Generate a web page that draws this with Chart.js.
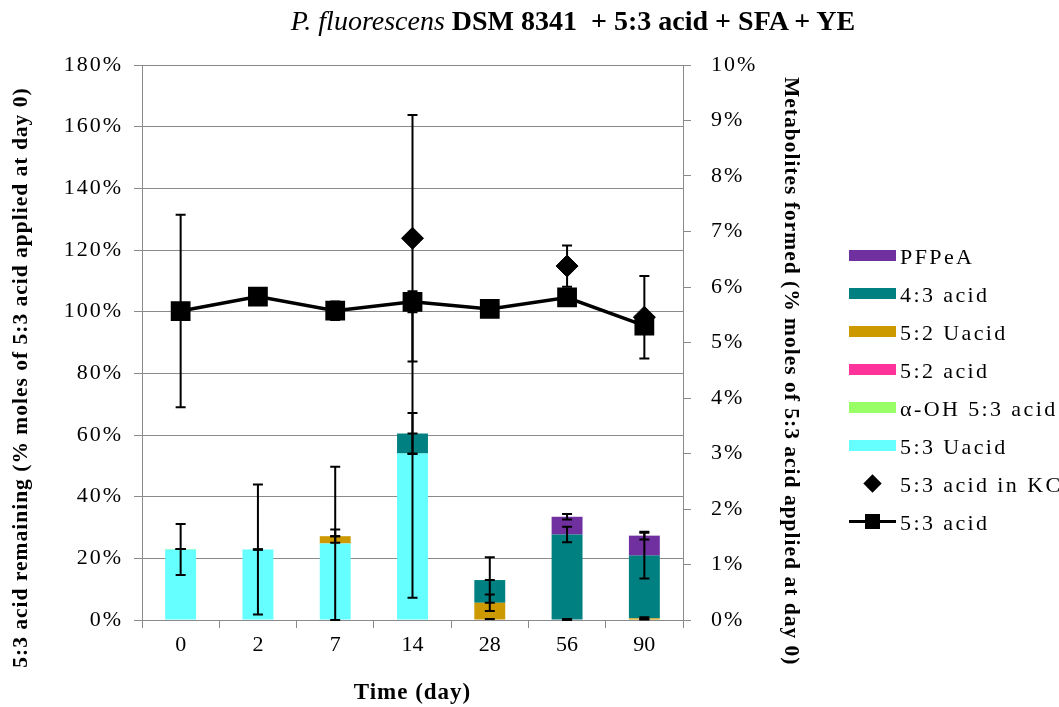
<!DOCTYPE html>
<html>
<head>
<meta charset="utf-8">
<script src="https://cdn.jsdelivr.net/npm/chart.js@4.4.1/dist/chart.umd.min.js"></script>
<style>
  body { margin: 0; background: #fff; }
  #wrap { position: relative; width: 1059px; height: 707px; }
  #title {
    position: absolute; left: 0; top: 5px; width: 1146px; text-align: center;
    font-family: "Liberation Serif", serif; font-size: 28px; color: #000;
    white-space: pre;
  }
  #title i { font-weight: normal; }
  #legend { position: absolute; left: 849px; top: 255px; font-family: "Liberation Serif", serif; }
  #legend .item { position: absolute; left: 0; height: 0; }
  #legend .swatch { position: absolute; left: 0; top: -5.5px; width: 47px; height: 11px; }
  #legend .diamond { position: absolute; left: 16.5px; top: -6.5px; width: 13px; height: 13px; background: #000; transform: rotate(45deg); }
  #legend .line { position: absolute; left: 0; top: -1.5px; width: 47px; height: 3px; background: #000; }
  #legend .sq { position: absolute; left: 16px; top: -6px; width: 15px; height: 15px; background: #000; }
  #legend .txt {
    position: absolute; left: 51px; top: -11.5px; line-height: 26px;
    font-size: 22px; letter-spacing: 2.4px; white-space: nowrap; color: #000;
  }
</style>
</head>
<body>
<div id="wrap">
  <div id="title"><i>P. fluorescens</i> <b>DSM 8341  + 5:3 acid + SFA + YE</b></div>
  <canvas id="chart" width="1059" height="707"></canvas>
  <div id="legend"></div>
</div>
<script>
// categorias (dias)
const days = ['0', '2', '7', '14', '28', '56', '90'];

// metabolitos formados (% moles de 5:3 acid aplicado), eje derecho
const uacid53    = [1.27, 1.27, 1.38, 3.00, 0, 0, 0];
const uacid53Err = [0.46, 1.17, 1.38, 2.60, 0.02, 0.02, 0.02];
const ohAcid53   = [0.01, 0, 0, 0, 0, 0, 0];
const acid52     = [0, 0, 0, 0, 0, 0, 0];
const uacid52    = [0, 0, 0.13, 0, 0.31, 0, 0.03];
const uacid52Err = [0, 0, 0.12, 0, 0.15, 0, 0.02];
const acid43     = [0, 0, 0, 0.36, 0.41, 1.54, 1.13];
const acid43Err  = [0, 0, 0, 0.37, 0.41, 0.14, 0.41];
const pfpea      = [0, 0, 0, 0, 0, 0.32, 0.36];
const pfpeaErr   = [0, 0, 0, 0, 0, 0.05, 0.07];

// 5:3 acid restante (%), eje izquierdo
const acid53      = [100.2, 104.9, 100.3, 103.2, 100.9, 104.6, 95.5];
const acid53Err   = [31.2, 1.2, 3.0, 3.4, 1.0, 1.0, 2.0];
const acid53KC    = [null, null, null, 123.8, null, 114.8, 98.2];
const acid53KCErr = [null, null, null, 40.0, null, 6.7, 13.4];

const leftTicks = [0, 20, 40, 60, 80, 100, 120, 140, 160, 180];
const rightTicks = [0, 1, 2, 3, 4, 5, 6, 7, 8, 9, 10];

const serif = '"Liberation Serif", "Times New Roman", serif';
Chart.defaults.color = '#000';
Chart.defaults.font.family = serif;

const barStyles = [
    { label: '5:3 Uacid',     data: uacid53,  err: uacid53Err, color: '#66FFFF' },
    { label: 'α-OH 5:3 acid', data: ohAcid53, err: null,       color: '#99FF66' },
    { label: '5:2 acid',      data: acid52,   err: null,       color: '#FF3399' },
    { label: '5:2 Uacid',     data: uacid52,  err: uacid52Err, color: '#CC9900' },
    { label: '4:3 acid',      data: acid43,   err: acid43Err,  color: '#008080' },
    { label: 'PFPeA',         data: pfpea,    err: pfpeaErr,   color: '#7030A0' }
];

const datasets = barStyles.map(s => ({
    type: 'bar',
    label: s.label,
    data: s.data,
    errors: s.err,
    backgroundColor: s.color,
    yAxisID: 'y1',
    order: 3,
    barPercentage: 0.4,
    categoryPercentage: 1
}));
datasets.push({
    type: 'line',
    label: '5:3 acid in KC',
    data: acid53KC,
    errors: acid53KCErr,
    yAxisID: 'y',
    showLine: false,
    pointStyle: 'rectRot',
    pointRadius: 11,
    pointHoverRadius: 11,
    backgroundColor: '#000',
    borderColor: '#000',
    order: 2
});
datasets.push({
    type: 'line',
    label: '5:3 acid',
    data: acid53,
    errors: acid53Err,
    yAxisID: 'y',
    borderColor: '#000',
    backgroundColor: '#000',
    borderWidth: 3.5,
    pointStyle: 'rect',
    pointRadius: 11.5,
    pointHoverRadius: 11.5,
    tension: 0,
    order: 1
});

// barras de error (dibujadas con las escalas del grafico)
function drawErrors(chart, dsIndex, cumulative) {
    const ds = chart.data.datasets[dsIndex];
    if (!ds.errors) return;
    const meta = chart.getDatasetMeta(dsIndex);
    const scale = chart.scales[ds.yAxisID];
    const ctx = chart.ctx;
    const area = chart.chartArea;
    ctx.save();
    ctx.strokeStyle = '#000';
    ctx.lineWidth = 2;
    ds.errors.forEach((e, i) => {
        if (e === null || e === undefined || ds.data[i] === null) return;
        let v = ds.data[i];
        if (cumulative) {
            v = 0;
            for (let k = 0; k <= dsIndex; k++) v += chart.data.datasets[k].data[i];
        }
        const x = meta.data[i].x;
        const yTop = Math.max(area.top, scale.getPixelForValue(v + e));
        const yBot = Math.min(area.bottom, scale.getPixelForValue(v - e));
        ctx.beginPath();
        ctx.moveTo(x, yTop); ctx.lineTo(x, yBot);
        ctx.moveTo(x - 5, yTop); ctx.lineTo(x + 5, yTop);
        if (v - e >= 0) { ctx.moveTo(x - 5, yBot); ctx.lineTo(x + 5, yBot); }
        ctx.stroke();
    });
    ctx.restore();
}

const errorBars = {
    id: 'errorBars',
    beforeDatasetDraw(chart, args) {
        if (args.index === 6 || args.index === 7) drawErrors(chart, args.index, false);
    },
    afterDatasetDraw(chart, args) {
        if (args.index === 0) {
            for (let k = 0; k < barStyles.length; k++) drawErrors(chart, k, true);
        }
    }
};

// espaciado de letras para textos de los ejes
const textSpacing = {
    x:  { drawLabels: '0px', drawTitle: '1px' },
    y:  { drawLabels: '2px', drawTitle: '1px' },
    y1: { drawLabels: '2px', drawTitle: '1px' }
};
const spacing = {
    id: 'spacing',
    beforeDraw(chart) {
        Object.keys(textSpacing).forEach(id => {
            const scale = chart.scales[id];
            if (!scale || scale._spaced) return;
            scale._spaced = true;
            Object.keys(textSpacing[id]).forEach(fn => {
                const orig = scale[fn].bind(scale);
                scale[fn] = function(...args) {
                    chart.ctx.letterSpacing = textSpacing[id][fn];
                    orig(...args);
                    chart.ctx.letterSpacing = '0px';
                };
            });
        });
    }
};

const gridGrey = '#8a8a8a';
const ctx = document.getElementById('chart').getContext('2d');
const chart = new Chart(ctx, {
    type: 'bar',
    data: { labels: days, datasets: datasets },
    plugins: [errorBars, spacing],
    options: {
        responsive: false,
        animation: false,
        layout: { padding: { top: 65, right: 226, bottom: 0, left: 0 } },
        plugins: {
            tooltip: { enabled: false },
            legend: { display: false }
        },
        scales: {
            x: {
                stacked: true,
                grid: { offset: true, drawOnChartArea: false, color: gridGrey, tickLength: 8 },
                border: { color: gridGrey },
                ticks: { font: { size: 22 }, padding: 4 },
                title: { display: true, text: 'Time (day)', font: { size: 23, weight: 'bold' }, padding: { top: 0, bottom: 0 } },
                afterFit(scale) { scale.height = 87; }
            },
            y: {
                position: 'left',
                min: 0, max: 180,
                afterBuildTicks(scale) { scale.ticks = leftTicks.map(v => ({ value: v })); },
                ticks: { callback: v => v + '%', font: { size: 22 }, padding: 11 },
                grid: { color: gridGrey, tickLength: 8 },
                border: { color: gridGrey },
                title: {
                    display: true,
                    text: '5:3 acid remaining (% moles of 5:3 acid applied at day 0)           ',
                    font: { size: 21.5, weight: 'bold' },
                    padding: { top: 9, bottom: 0 }
                },
                afterFit(scale) { scale.width = 142; }
            },
            y1: {
                position: 'right',
                stacked: true,
                min: 0, max: 10,
                afterBuildTicks(scale) { scale.ticks = rightTicks.map(v => ({ value: v })); },
                ticks: { callback: v => v + '%', font: { size: 22 }, padding: 20 },
                grid: { drawOnChartArea: false, color: gridGrey, tickLength: 8 },
                border: { color: gridGrey },
                title: {
                    display: true,
                    text: '         Metabolites formed (% moles of 5:3 acid applied at day 0)',
                    font: { size: 21.5, weight: 'bold' },
                    padding: { top: 30, bottom: 0 }
                },
                afterFit(scale) { scale.width = 150; }
            }
        }
    }
});

// leyenda en HTML construida a partir de los datasets
const legendOrder = [5, 4, 3, 2, 1, 0, 6, 7];
const legendBox = document.getElementById('legend');
legendOrder.forEach((i, n) => {
    const ds = chart.data.datasets[i];
    const row = document.createElement('div');
    row.className = 'item';
    row.style.top = (n * 38.1) + 'px';
    let icon;
    if (ds.type === 'bar') {
        icon = `<span class="swatch" style="background:${ds.backgroundColor}"></span>`;
    } else if (ds.showLine === false) {
        icon = `<span class="diamond"></span>`;
    } else {
        icon = `<span class="line"><span class="sq"></span></span>`;
    }
    row.innerHTML = icon + `<span class="txt">${ds.label}</span>`;
    legendBox.appendChild(row);
});
</script>
</body>
</html>
